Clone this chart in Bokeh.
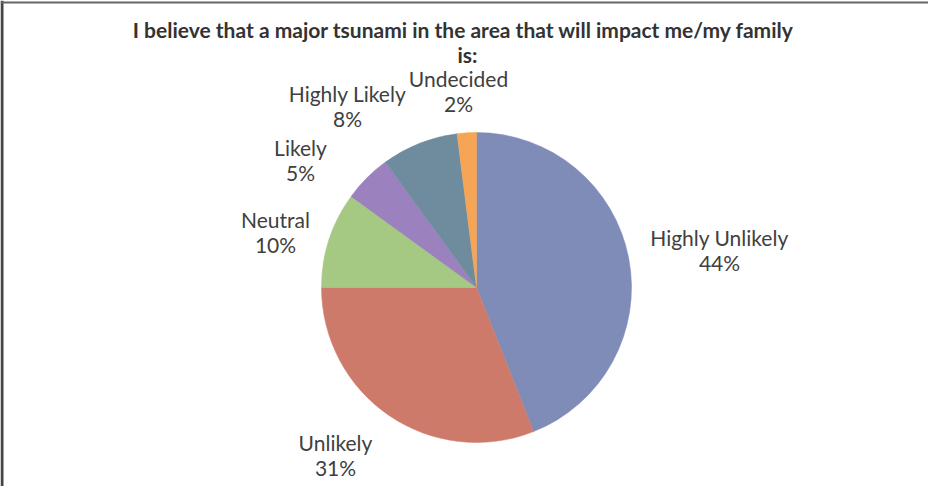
import numpy as np
from bokeh.plotting import figure
from bokeh.models import ColumnDataSource, Range1d, Span
from bokeh.core.properties import value
from bokeh.embed import file_html
from bokeh.resources import INLINE

# ---- data ----
categories = ["Highly Unlikely", "Unlikely", "Neutral", "Likely", "Highly Likely", "Undecided"]
percents = [44, 31, 10, 5, 8, 2]
colors = ["#7F8CB8", "#CE7A6B", "#A5C982", "#9B82BE", "#6F8C9F", "#F5A555"]
title_lines = ["I believe that a major tsunami in the area that will impact me/my family", "is:"]

# ---- layout (pixel-like units) ----
W, H = 928, 486
cx, cy, R = 476, 199, 155
label_dx = [243, -141, -201, -176, -129, -18]
label_dy = [50, -155, 68, 140, 194, 209]
line_gap = 25

vals = np.array(percents, dtype=float)
frac = vals / vals.sum()
cum = np.concatenate([[0.0], np.cumsum(frac)])
start = np.pi / 2 - cum[:-1] * 2 * np.pi
end = np.pi / 2 - cum[1:] * 2 * np.pi

src = ColumnDataSource(dict(cat=categories, pct=[f"{v}%" for v in percents],
                            color=colors, start=start, end=end,
                            x=[cx] * len(categories), y=[cy] * len(categories),
                            lx=[cx + d for d in label_dx],
                            ly=[cy + d for d in label_dy],
                            ly2=[cy + d - line_gap for d in label_dy]))

p = figure(width=W, height=H, x_range=Range1d(0, W), y_range=Range1d(0, H),
           output_backend="svg", toolbar_location=None, min_border=0,
           background_fill_color="white", border_fill_color="white")
p.axis.visible = False
p.grid.visible = False
p.outline_line_color = None

p.add_layout(Span(location=1.5, dimension="height", line_color="#444444", line_width=3))
p.add_layout(Span(location=H - 2, dimension="width", line_color="#666666", line_width=2))

p.wedge(x="x", y="y", radius=R, start_angle="start", end_angle="end",
        direction="clock", fill_color="color", line_color="color", line_width=0.5, source=src)

p.text(x="lx", y="ly", text="cat", source=src, text_align="center", text_baseline="middle",
       text_font=value("Lato"), text_font_size="21px", text_color="#404040")
p.text(x="lx", y="ly2", text="pct", source=src, text_align="center", text_baseline="middle",
       text_font=value("Lato"), text_font_size="21px", text_color="#404040")

p.text(x=[463, 467], y=[457, 432], text=title_lines, text_align="center", text_baseline="middle",
       text_font=value("Lato"), text_font_style="bold", text_font_size="21px", text_color="#333333")

open("out.html", "w").write(file_html(p, INLINE))
